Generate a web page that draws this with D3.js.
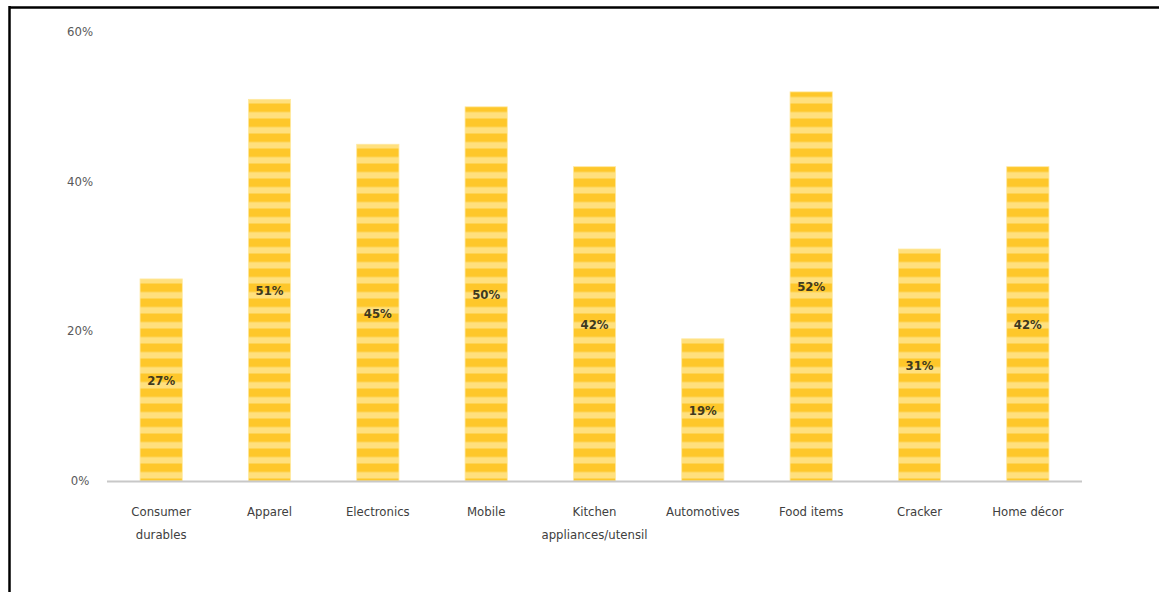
<!DOCTYPE html>
<html><head><meta charset="utf-8">
<script src="https://cdn.jsdelivr.net/npm/d3@7"></script>
<style>
body{margin:0;background:#fff;}
svg{display:block;}
text{font-family:"Liberation Sans Narrow","DejaVu Sans Condensed","Liberation Sans",sans-serif;}
</style></head>
<body>
<svg id="chart" width="1159" height="592"></svg>
<script>
const categories = ["Consumer durables","Apparel","Electronics","Mobile","Kitchen appliances/utensil","Automotives","Food items","Cracker","Home décor"];
const categoryLines = [["Consumer","durables"],["Apparel"],["Electronics"],["Mobile"],["Kitchen","appliances/utensil"],["Automotives"],["Food items"],["Cracker"],["Home décor"]];
const values = [27,51,45,50,42,19,52,31,42];
const yTicks = [0,20,40,60];

const svg = d3.select("#chart");
// frame lines
svg.append("line").attr("x1",9).attr("x2",1159).attr("y1",7.5).attr("y2",7.5).attr("stroke","#000").attr("stroke-width",2.5);
svg.append("line").attr("x1",9.5).attr("x2",9.5).attr("y1",6).attr("y2",592).attr("stroke","#000").attr("stroke-width",2.5);

const defs = svg.append("defs");
const pat = defs.append("pattern").attr("id","stripes").attr("patternUnits","userSpaceOnUse")
  .attr("width",10).attr("height",15).attr("y",-1.5);
pat.append("rect").attr("width",10).attr("height",15).attr("fill","#FFE07E");
pat.append("rect").attr("width",10).attr("height",8.5).attr("fill","#FEC72A");

const x = d3.scaleBand().domain(categories).range([107,1082]).paddingInner(0.61).paddingOuter(0.305);
const y = d3.scaleLinear().domain([0,60]).range([481,32]);

// y tick labels
svg.append("g").selectAll("text").data(yTicks).join("text")
  .attr("x",80).attr("y",d=>y(d)+4).attr("text-anchor","middle")
  .attr("font-size",13).attr("fill","#595959").text(d=>d+"%");

// bars
svg.append("g").selectAll("rect").data(values).join("rect")
  .attr("x",(d,i)=>x(categories[i])).attr("width",x.bandwidth())
  .attr("y",d=>y(d)).attr("height",d=>y(0)-y(d))
  .attr("fill","url(#stripes)").attr("stroke","#FFE9A0").attr("stroke-width",0.8);

// baseline
svg.append("line").attr("x1",107).attr("x2",1082).attr("y1",y(0)+0.5).attr("y2",y(0)+0.5)
  .attr("stroke","#C8C8C8").attr("stroke-width",2);

// value labels
svg.append("g").selectAll("text").data(values).join("text")
  .attr("x",(d,i)=>x(categories[i])+x.bandwidth()/2)
  .attr("y",d=>(y(d)+y(0))/2+5).attr("text-anchor","middle")
  .attr("font-size",13).attr("font-weight","bold").attr("fill","#3F3A1E").text(d=>d+"%");

// x labels
const xl = svg.append("g").selectAll("text").data(categoryLines).join("text")
  .attr("x",(d,i)=>x(categories[i])+x.bandwidth()/2).attr("y",516)
  .attr("text-anchor","middle").attr("font-size",13).attr("fill","#404040");
xl.selectAll("tspan").data(d=>d).join("tspan")
  .attr("x",function(){return this.parentNode.getAttribute("x");})
  .attr("dy",(d,i)=>i===0?0:23).text(d=>d);
</script>
</body></html>
